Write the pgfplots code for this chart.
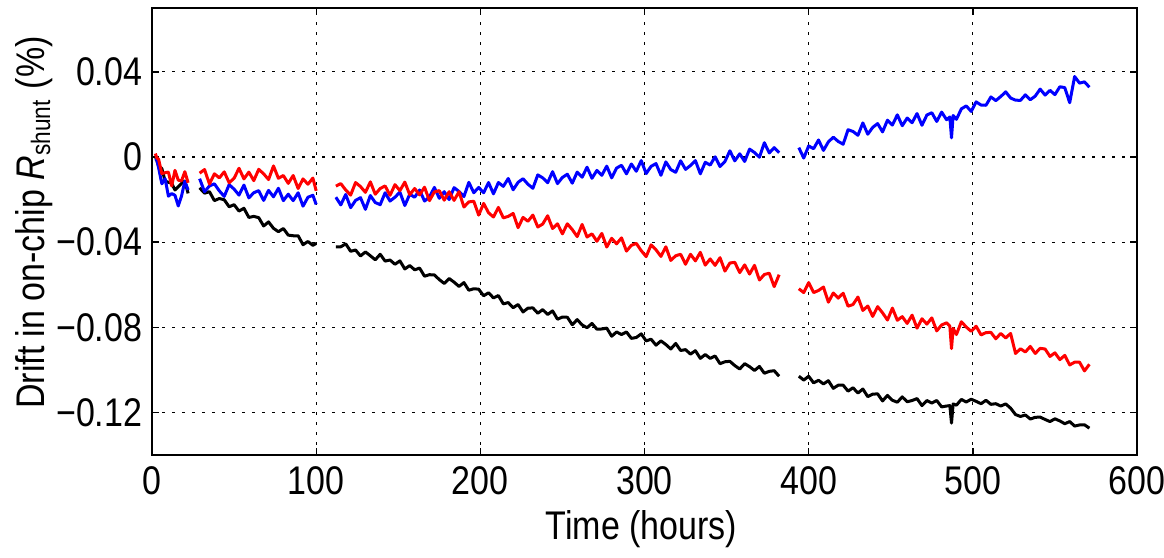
\documentclass[border=0pt]{standalone}
\usepackage{fontspec}
\setmainfont[FakeStretch=0.85]{Liberation Sans}
\usepackage{pgfplots}
\usepackage{pgfplotstable}
\pgfplotsset{compat=1.18}
\usetikzlibrary{calc}

% drift in units of 1e-3 %, gaps marked with nan
\pgfplotstableread{
x bk rd bl
2 0.4 1.6 -0.9
3 -1.9 -0.5 -1.3
4 -4.3 -1.0 -5.0
6 -5.4 -7.8 -12.6
8 -11.3 -7.4 -10.2
10 -11.9 -7.1 -18.4
12 -12.3 -13.6 -17.2
14 -15.5 -6.3 -18.0
16 -14.0 -10.9 -23.0
18 -12.4 -11.2 -18.3
20 -11.3 -6.9 -11.4
22 -17.1 -12.1 -15.5
25 nan nan nan
29 -14.5 -7.6 -10.2
32 -17.0 -5.9 -16.3
35 -16.3 -12.7 -13.6
38 -20.5 -7.9 -12.6
41 -19.5 -9.8 -15.9
44 -20.1 -7.0 -18.5
47 -23.4 -12.1 -13.0
50 -22.4 -10.0 -15.1
53 -25.4 -5.3 -17.9
56 -24.1 -10.3 -13.2
59 -28.4 -7.1 -19.2
62 -27.9 -11.1 -16.8
65 -28.5 -5.8 -15.8
68 -32.4 -7.9 -20.4
71 -30.5 -10.6 -15.7
74 -33.5 -4.2 -18.7
77 -35.1 -10.0 -14.7
80 -33.6 -8.7 -20.5
83 -36.7 -12.4 -17.5
86 -37.0 -8.7 -20.5
89 -37.0 -14.8 -16.8
92 -41.2 -10.3 -23.1
95 -39.7 -12.8 -18.9
98 -41.5 -9.9 -18.0
100 -40.6 -15.9 -22.3
106 nan nan nan
112 -42.2 -13.7 -18.9
115 -42.2 -12.5 -22.5
118 -40.8 -15.5 -17.6
121 -44.3 -17.9 -23.8
124 -43.7 -12.0 -20.4
127 -46.5 -13.9 -19.1
130 -44.6 -16.6 -24.6
133 -46.4 -11.7 -18.1
136 -48.3 -17.5 -21.4
139 -45.7 -14.8 -22.4
142 -48.9 -13.6 -16.8
145 -48.4 -18.0 -20.7
148 -50.4 -13.0 -18.9
151 -48.8 -15.8 -16.5
154 -52.6 -11.8 -22.8
157 -51.0 -17.7 -17.5
160 -53.0 -14.8 -18.9
163 -52.2 -17.8 -15.5
166 -56.0 -14.2 -20.7
169 -55.3 -20.5 -18.8
172 -55.4 -16.4 -14.3
175 -57.6 -15.8 -19.4
178 -59.4 -20.3 -16.3
181 -57.1 -16.3 -20.0
184 -58.8 -20.4 -14.4
187 -60.8 -16.3 -16.2
190 -59.0 -23.5 -18.6
193 -62.6 -21.1 -11.9
196 -61.9 -20.8 -16.8
199 -62.1 -27.3 -14.3
202 -65.2 -21.8 -16.8
205 -63.8 -26.2 -12.0
208 -66.2 -28.2 -17.3
211 -65.1 -23.7 -12.0
214 -69.0 -28.6 -13.8
217 -68.4 -27.9 -10.1
220 -70.8 -26.5 -15.4
223 -69.3 -33.2 -11.9
226 -72.8 -28.4 -10.2
229 -71.0 -30.2 -12.8
232 -70.9 -27.3 -14.7
235 -73.4 -32.9 -8.4
238 -71.7 -31.5 -9.8
241 -74.0 -27.6 -12.1
244 -72.3 -33.6 -6.9
247 -76.2 -31.4 -12.5
250 -75.2 -36.1 -9.6
253 -75.3 -31.4 -8.1
256 -78.8 -34.1 -12.3
259 -76.4 -37.4 -7.1
262 -78.9 -31.7 -9.5
265 -80.2 -37.6 -4.8
268 -78.2 -36.1 -10.0
271 -80.9 -39.6 -6.3
274 -80.8 -35.9 -8.6
277 -80.4 -42.3 -4.3
280 -84.2 -38.2 -9.8
283 -82.2 -40.8 -5.2
286 -83.4 -38.0 -3.9
289 -82.2 -44.2 -7.9
292 -85.2 -41.5 -3.3
295 -84.8 -40.6 -6.7
298 -83.1 -44.0 -1.7
301 -86.4 -46.8 -7.8
304 -85.6 -41.3 -4.4
307 -88.4 -43.6 -3.1
310 -86.4 -46.7 -8.6
313 -88.1 -42.2 -2.3
316 -90.2 -48.6 -5.9
319 -87.6 -46.4 -7.2
322 -90.9 -45.7 -1.8
325 -90.5 -50.4 -5.8
328 -92.6 -45.7 -4.0
331 -91.0 -48.8 -1.7
334 -94.6 -44.8 -7.9
337 -92.8 -50.8 -2.5
340 -94.6 -47.9 -3.8
343 -93.5 -50.9 0.1
346 -97.1 -47.3 -4.5
349 -96.2 -53.6 -2.1
352 -96.0 -49.8 2.9
355 -98.0 -49.5 -1.8
358 -99.6 -54.3 1.5
361 -97.1 -50.7 -2.1
364 -98.5 -55.0 3.7
367 -100.3 -50.9 2.1
370 -98.4 -57.8 -0.1
373 -101.6 -55.2 6.7
376 -100.7 -54.6 1.9
379 -100.4 -60.9 4.4
382 -103.0 -55.3 2.0
388 nan nan nan
394 -103.0 -61.9 4.4
397 -104.8 -63.7 -0.5
400 -103.0 -59.0 5.2
403 -106.1 -63.7 3.9
406 -104.9 -62.7 8.0
409 -106.6 -61.1 3.1
412 -105.1 -68.2 7.1
415 -108.7 -63.9 9.3
418 -107.2 -66.3 7.3
421 -107.2 -64.0 6.0
424 -110.0 -70.1 12.8
427 -108.4 -69.3 12.0
430 -110.9 -65.8 10.2
433 -109.0 -72.1 16.0
436 -112.6 -70.0 10.7
439 -111.4 -74.9 13.9
442 -111.3 -70.3 15.7
445 -114.6 -73.2 11.8
448 -112.0 -76.6 17.3
451 -114.3 -71.0 15.0
454 -115.2 -76.7 19.8
457 -112.7 -75.0 14.7
460 -115.0 -78.2 18.3
463 -114.4 -74.3 16.1
466 -113.5 -80.4 20.4
469 -116.8 -76.0 14.9
472 -114.4 -78.5 19.7
475 -115.6 -75.6 20.8
478 -114.4 -81.7 16.7
481 -117.4 -78.9 21.1
484 -117.0 -77.9 17.5
486 -116.8 -79.5 18.8
487 -125.0 -90.0 9.0
488 -116.0 -80.5 19.5
490 -116.6 -83.4 17.7
493 -113.9 -77.4 22.6
496 -115.1 -79.9 24.0
499 -113.8 -81.9 21.4
502 -114.8 -79.5 25.9
505 -115.9 -83.6 24.4
508 -114.3 -82.5 24.3
511 -116.2 -82.4 28.2
514 -115.9 -85.4 26.5
517 -117.0 -82.9 28.4
520 -116.0 -85.0 30.6
523 -118.0 -82.9 27.7
526 -121.0 -92.3 26.7
529 -121.9 -90.1 26.6
532 -121.2 -91.6 29.2
535 -123.1 -89.0 26.9
538 -122.3 -92.3 28.6
541 -122.2 -89.9 31.9
544 -123.3 -90.2 29.1
547 -124.3 -93.7 31.3
550 -123.0 -92.0 29.3
553 -124.0 -95.2 33.0
556 -125.3 -93.2 32.6
559 -124.3 -97.7 25.5
562 -126.4 -96.4 37.8
565 -125.9 -96.4 34.7
568 -125.8 -100.5 35.3
571 -127.4 -97.4 32.8
}\drift

\begin{document}
\begin{tikzpicture}
\begin{axis}[
    scale only axis,
    width=295.5pt, height=134.1pt,
    xmin=0, xmax=600, ymin=-140, ymax=70,
    xtick={0,100,200,300,400,500,600},
    xticklabels={0,100,200,300,400,500,600},
    ytick={-120,-80,-40,0,40},
    yticklabels={−0.12,−0.08,−0.04,0,0.04},
    tick align=inside,
    major tick length=2.1pt,
    tick style={black, line width=0.4pt},
    axis line style={line width=0.75pt},
    grid=major,
    grid style={black, line width=0.35pt, dash pattern=on 1pt off 2pt},
    tick label style={font=\fontsize{12}{14}\selectfont},
    label style={font=\fontsize{12}{14}\selectfont},
    yticklabel style={xshift=0.6pt},
    xlabel={Time (hours)},
    ylabel={Drift in on-chip \textit{R}\textsubscript{shunt} (\%)},
    xlabel style={at={(axis description cs:0.497,-0.165)}, anchor=center},
    ylabel style={at={(axis description cs:-0.12,0.52)}, anchor=center},
    unbounded coords=jump,
    every axis plot/.append style={line width=0.9pt, line join=round, mark=none},
]
\addplot[black] table[x=x, y=bk]{\drift};
\addplot[blue] table[x=x, y=bl]{\drift};
\addplot[red] table[x=x, y=rd]{\drift};
\end{axis}
\pgfresetboundingbox
\path[use as bounding box] ($(current axis.south west)+(-45.6pt,-30.9pt)$) rectangle ($(current axis.north east)+(8.1pt,2.4pt)$);
\end{tikzpicture}
\end{document}
